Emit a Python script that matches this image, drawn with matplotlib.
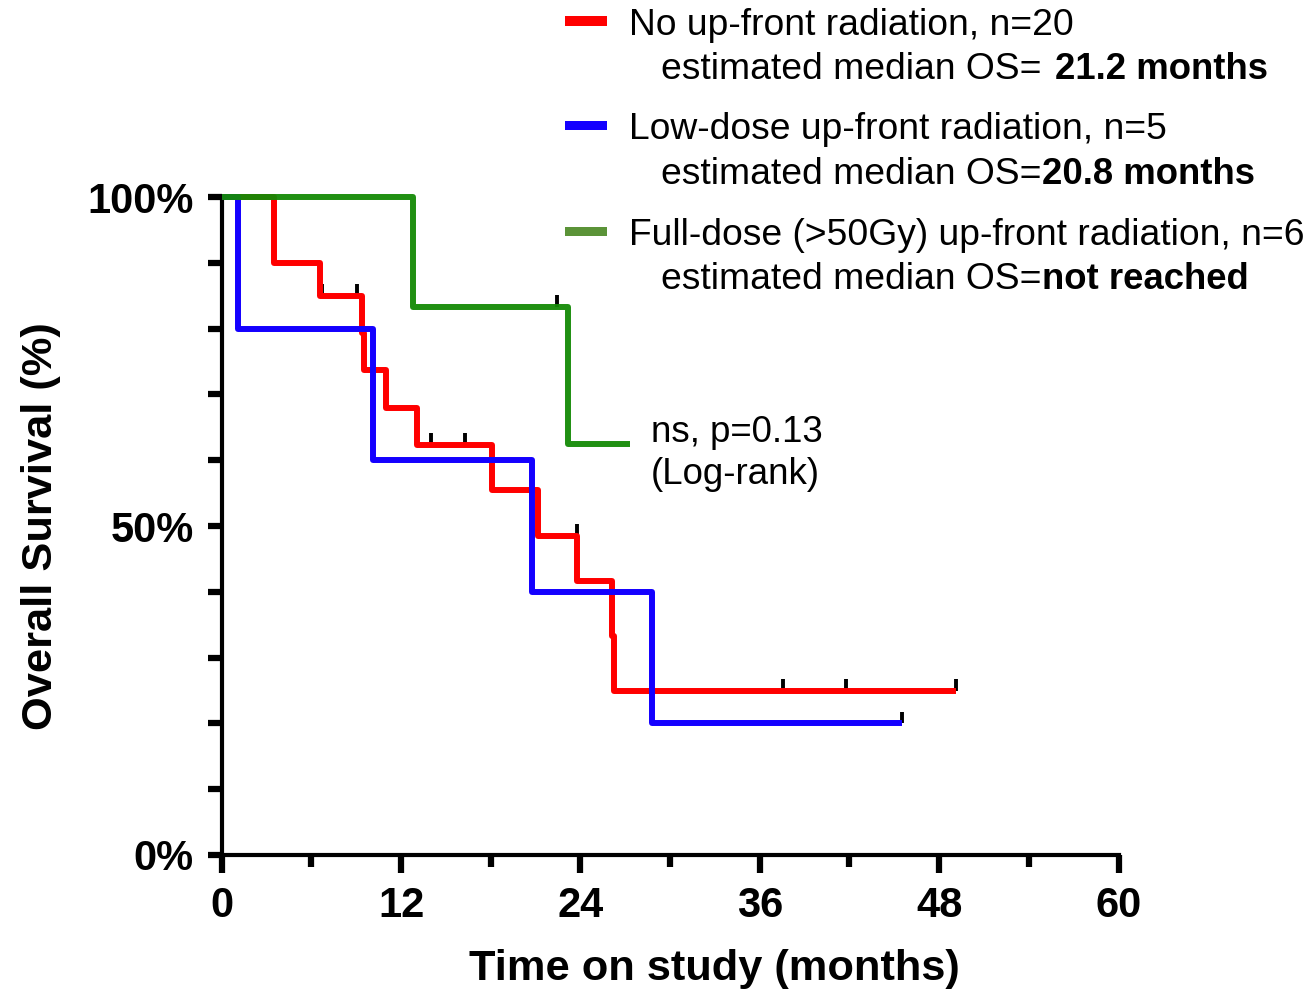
import matplotlib
matplotlib.use("Agg")
import matplotlib.pyplot as plt
from matplotlib.patches import Rectangle

# Kaplan-Meier steps (months, % surviving)
t_none = [0, 3.5, 6.58, 9.41, 9.52, 10.97, 13.04, 18.06, 21.18, 23.75, 26.13, 26.27, 49.12]
s_none = [100, 90, 85, 79.3, 73.7, 68.0, 62.3, 55.4, 48.5, 41.6, 33.3, 25.0, 25.0]
cens_none_t = [6.70, 9.05, 14.0, 16.28, 23.79, 37.55, 41.76, 49.12]
cens_none_s = [85, 85, 62.3, 62.3, 48.5, 25, 25, 25]

t_low = [0, 1.09, 10.12, 20.76, 28.79, 45.5]
s_low = [100, 80, 60, 40, 20, 20]
cens_low_t = [45.5]
cens_low_s = [20]

t_full = [0, 12.82, 23.19, 27.33]
s_full = [100, 83.3, 62.5, 62.5]
cens_full_t = [22.43]
cens_full_s = [83.3]

xticks = [0, 12, 24, 36, 48, 60]
xminor = [6, 18, 30, 42, 54]
yticks = [0, 50, 100]
yticklabels = ["0%", "50%", "100%"]
yminor = [10, 20, 30, 40, 60, 70, 80, 90]

legend_names = ["No up-front radiation, n=20",
                "Low-dose up-front radiation, n=5",
                "Full-dose (>50Gy) up-front radiation, n=6"]
legend_median = ["21.2 months", "20.8 months", "not reached"]
legend_prefix = ["estimated median OS= ", "estimated median OS=", "estimated median OS="]

RED = "#ff0000"
BLUE = "#1400ff"
GREEN = "#148a06"
GREEN_PATCH = "#5b9338"

W, H = 1309, 990
plt.rcParams["font.family"] = ["Liberation Sans", "DejaVu Sans"]

fig = plt.figure(figsize=(W / 100, H / 100), dpi=100)


def px(x, y):
    return x / W, 1 - y / H


ax = fig.add_axes([221.7 / W, 1 - 855 / H, 896.8 / W, 658 / H])
ax.set_xlim(0, 60)
ax.set_ylim(0, 100)

for sp in ["top", "right"]:
    ax.spines[sp].set_visible(False)
for sp in ["left", "bottom"]:
    ax.spines[sp].set_linewidth(3)

ax.set_xticks(xticks)
ax.set_xticklabels([str(v) for v in xticks])
ax.set_xticks(xminor, minor=True)
ax.set_yticks(yticks)
ax.set_yticklabels(yticklabels)
ax.set_yticks(yminor, minor=True)

ax.tick_params(axis="x", which="major", length=13, width=4.5, pad=9,
               labelsize=30)
ax.tick_params(axis="x", which="minor", length=8.5, width=4.5)
ax.tick_params(axis="y", which="both", length=10, width=4.5, pad=10,
               labelsize=30)
for lab in ax.get_xticklabels() + ax.get_yticklabels():
    lab.set_fontweight("bold")

# censor marks
tick_h = 1.8
ax.vlines(cens_none_t, cens_none_s, [s + tick_h for s in cens_none_s],
          colors="k", lw=2.8, zorder=2, clip_on=False)
ax.vlines(cens_low_t, cens_low_s, [s + tick_h for s in cens_low_s],
          colors="k", lw=2.8, zorder=2, clip_on=False)
ax.vlines(cens_full_t, cens_full_s, [s + tick_h for s in cens_full_s],
          colors="k", lw=2.8, zorder=2, clip_on=False)

ax.plot(t_none, s_none, drawstyle="steps-post", color=RED, lw=4.3,
        zorder=3, clip_on=False, solid_capstyle="butt")
ax.plot(t_low, s_low, drawstyle="steps-post", color=BLUE, lw=4.3,
        zorder=4, clip_on=False, solid_capstyle="butt")
ax.plot(t_full, s_full, drawstyle="steps-post", color=GREEN, lw=4.3,
        zorder=5, clip_on=False, solid_capstyle="butt", alpha=0.95)

# axis labels
x, y = px(714, 980)
fig.text(x, y, "Time on study (months)", ha="center", va="baseline",
         fontsize=31.2, fontweight="bold")
x, y = px(52, 526.5)
fig.text(x, y, "Overall Survival (%)", ha="center", va="baseline",
         rotation=90, rotation_mode="anchor", fontsize=31.2, fontweight="bold")

# legend
colors = [RED, BLUE, GREEN_PATCH]
base1 = [35, 139, 245]
base2 = [79, 184, 289]
gaps = [2, 0, 0]
for i in range(3):
    x0, y0 = px(565, base1[i] - 9)
    fig.patches.append(Rectangle((x0, y0), 42 / W, 9.5 / H,
                                 transform=fig.transFigure,
                                 facecolor=colors[i], edgecolor="none"))
    x, y = px(629, base1[i])
    fig.text(x, y, legend_names[i], ha="left", va="baseline", fontsize=26.8)
    x, y = px(661, base2[i])
    t = fig.text(x, y, legend_prefix[i], ha="left", va="baseline",
                 fontsize=26.8)
    fig.add_artist(plt.Annotation(legend_median[i], xy=(1, 0), xycoords=t,
                                  xytext=(gaps[i], 0),
                                  textcoords="offset points",
                                  ha="left", va="bottom", fontsize=26.3,
                                  fontweight="bold"))

# log-rank note
x, y = px(651, 442)
fig.text(x, y, "ns, p=0.13", ha="left", va="baseline", fontsize=26.4)
x, y = px(651, 484)
fig.text(x, y, "(Log-rank)", ha="left", va="baseline", fontsize=26.4)

fig.savefig("out.png", dpi=100)
